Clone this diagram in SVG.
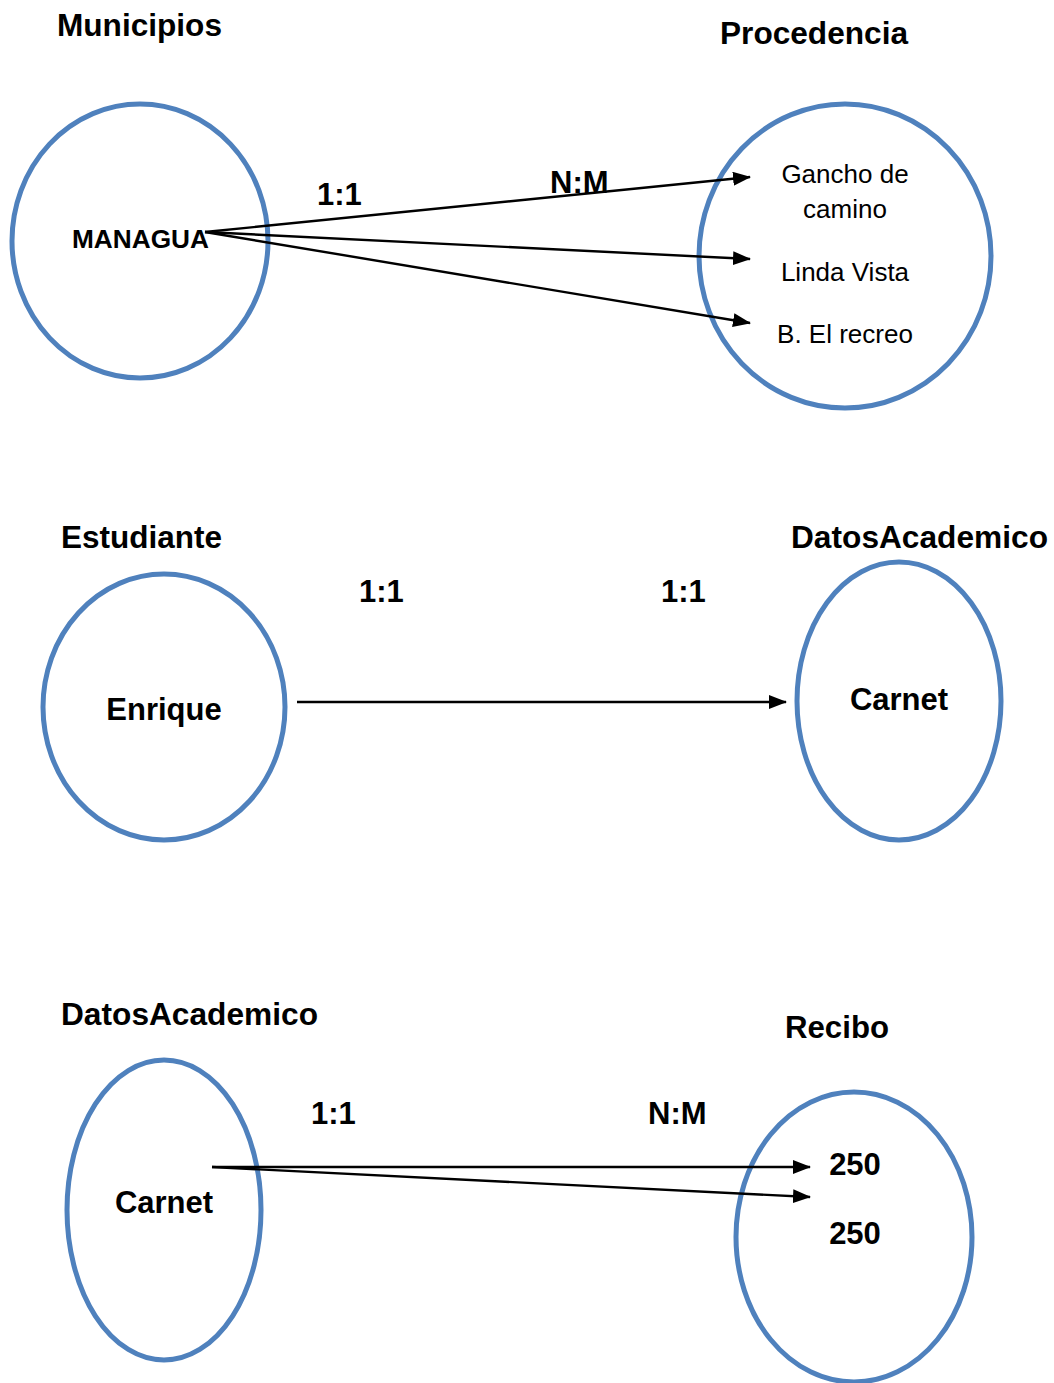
<svg xmlns="http://www.w3.org/2000/svg" width="1054" height="1383" viewBox="0 0 1054 1383">
  <defs>
    <marker id="arrow" markerUnits="userSpaceOnUse" markerWidth="18" markerHeight="14" refX="17" refY="7" orient="auto">
      <path d="M0,0 L18,7 L0,14 Z" fill="#000"/>
    </marker>
    <style>
      .set { fill: #fff; stroke: #4F81BD; stroke-width: 5; }
      .title { font-family: "Liberation Sans", Arial, sans-serif; font-weight: bold; font-size: 31px; fill: #000; }
      .card { font-family: "Liberation Sans", Arial, sans-serif; font-weight: bold; font-size: 31px; fill: #000; }
      .item { font-family: "Liberation Sans", Arial, sans-serif; font-size: 26px; fill: #000; text-anchor: middle; }
      .bold-item { font-family: "Liberation Sans", Arial, sans-serif; font-weight: bold; font-size: 31px; fill: #000; text-anchor: middle; }
      .link { stroke: #000; stroke-width: 2.4; fill: none; marker-end: url(#arrow); }
    </style>
  </defs>
  <rect width="1054" height="1383" fill="#fff"/>

  <!-- Section 1: Municipios -> Procedencia -->
  <g id="municipios">
    <text class="title" x="57" y="36" textLength="165" lengthAdjust="spacingAndGlyphs">Municipios</text>
    <ellipse class="set" cx="140" cy="241" rx="128" ry="137"/>
    <text x="72" y="248" textLength="137" lengthAdjust="spacingAndGlyphs" font-family="Liberation Sans, Arial, sans-serif" font-weight="bold" font-size="26">MANAGUA</text>
  </g>
  <g id="procedencia">
    <text class="title" x="720" y="44" textLength="188" lengthAdjust="spacingAndGlyphs">Procedencia</text>
    <ellipse class="set" cx="845" cy="256" rx="146" ry="152"/>
    <text class="item" x="845" y="183">Gancho de</text>
    <text class="item" x="845" y="218">camino</text>
    <text class="item" x="845" y="281">Linda Vista</text>
    <text class="item" x="845" y="343">B. El recreo</text>
  </g>

  <!-- Section 2: Estudiante -> DatosAcademico -->
  <g id="estudiante">
    <text class="title" x="61" y="548" textLength="161" lengthAdjust="spacingAndGlyphs">Estudiante</text>
    <ellipse class="set" cx="164" cy="707" rx="121" ry="133"/>
    <text class="bold-item" x="164" y="720">Enrique</text>
  </g>
  <g id="datos-academico-1">
    <text class="title" x="791" y="548" textLength="257" lengthAdjust="spacingAndGlyphs">DatosAcademico</text>
    <ellipse class="set" cx="899" cy="701" rx="102" ry="139"/>
    <text class="bold-item" x="899" y="710">Carnet</text>
  </g>

  <!-- Section 3: DatosAcademico -> Recibo -->
  <g id="datos-academico-2">
    <text class="title" x="61" y="1025" textLength="257" lengthAdjust="spacingAndGlyphs">DatosAcademico</text>
    <ellipse class="set" cx="164" cy="1210" rx="97" ry="150"/>
    <text class="bold-item" x="164" y="1213">Carnet</text>
  </g>
  <g id="recibo">
    <text class="title" x="785" y="1038" textLength="104" lengthAdjust="spacingAndGlyphs">Recibo</text>
    <ellipse class="set" cx="854" cy="1237" rx="118" ry="145"/>
    <text class="bold-item" x="855" y="1175">250</text>
    <text class="bold-item" x="855" y="1244">250</text>
  </g>

  <!-- Connectors and cardinality labels -->
  <g id="connectors">
    <line class="link" x1="205" y1="232" x2="750" y2="177"/>
    <line class="link" x1="205" y1="232" x2="750" y2="259"/>
    <line class="link" x1="205" y1="232" x2="750" y2="323"/>
    <text class="card" x="317" y="205">1:1</text>
    <text class="card" x="550" y="193">N:M</text>

    <line class="link" x1="297" y1="702" x2="786" y2="702"/>
    <text class="card" x="359" y="602">1:1</text>
    <text class="card" x="661" y="602">1:1</text>

    <line class="link" x1="212" y1="1167" x2="810" y2="1167"/>
    <line class="link" x1="212" y1="1167" x2="810" y2="1197"/>
    <text class="card" x="311" y="1124">1:1</text>
    <text class="card" x="648" y="1124">N:M</text>
  </g>
</svg>
